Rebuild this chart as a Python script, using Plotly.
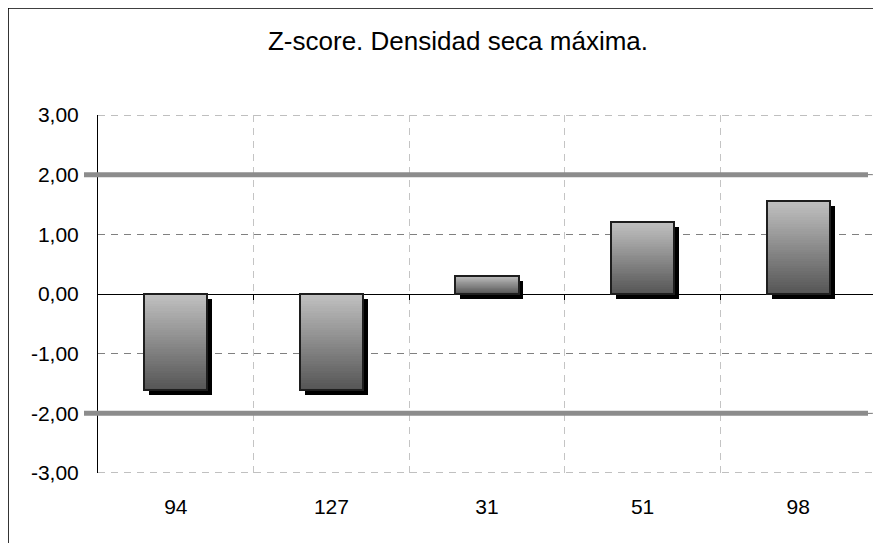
import plotly.graph_objects as go

# ---- data ----
categories = ["94", "127", "31", "51", "98"]
zscores = [-1.61, -1.61, 0.31, 1.20, 1.56]
limits = [2.0, -2.0]
y_ticks = [-3, -2, -1, 0, 1, 2, 3]
y_tick_text = [("%.2f" % v).replace(".", ",") for v in y_ticks]
title_text = "Z-score. Densidad seca máxima."

# ---- style ----
FONT = "Liberation Sans, Arial, sans-serif"
BAR_W = 0.405
SH_DX = 0.032   # shadow offset (category units)
SH_DY = 0.084   # shadow offset (data units)
N_SEG = 40
LIGHT = (192, 192, 192)
DARK = (86, 86, 86)
GRID_DASH = "7px,6px"

# page body has an 8px margin, so the figure is laid out 8px up/left
W, H = 873, 535
ML, MR, MT, MB = 90, 5, 107, 70
PW, PH = W - ML - MR, H - MT - MB

fig = go.Figure()

# shadow
fig.add_trace(go.Bar(
    x=categories, y=zscores, base=[-SH_DY] * len(zscores),
    width=BAR_W, offset=-BAR_W / 2 + SH_DX,
    marker=dict(color="black", line=dict(width=0)),
    hoverinfo="skip", showlegend=False))

# gradient fill (light at top, dark at bottom)
tops = [max(v, 0) for v in zscores]
bottoms = [min(v, 0) for v in zscores]
heights = [abs(v) for v in zscores]
for k in range(N_SEG):
    t = k / (N_SEG - 1)
    col = tuple(round(LIGHT[i] + (DARK[i] - LIGHT[i]) * t) for i in range(3))
    seg_top = [tp - h * k / N_SEG for tp, h in zip(tops, heights)]
    fig.add_trace(go.Bar(
        x=categories, y=[st - b for st, b in zip(seg_top, bottoms)], base=bottoms,
        width=BAR_W, offset=-BAR_W / 2,
        marker=dict(color="rgb(%d,%d,%d)" % col, line=dict(width=0)),
        hoverinfo="skip", showlegend=False))

# outline
fig.add_trace(go.Bar(
    x=categories, y=zscores, width=BAR_W, offset=-BAR_W / 2,
    marker=dict(color="rgba(0,0,0,0)", line=dict(color="#1e1e1e", width=2)),
    showlegend=False))

# invisible trace for the tick axis at zero
fig.add_trace(go.Scatter(x=[0], y=[0], xaxis="x2", mode="markers",
                         marker=dict(opacity=0), hoverinfo="skip", showlegend=False))

# edge gridlines (plotly omits the ones on the plot border)
for yv in (min(y_ticks), max(y_ticks)):
    fig.add_shape(type="line", xref="paper", yref="y", x0=0, x1=1, y0=yv, y1=yv,
                  line=dict(color="#808080", width=1, dash=GRID_DASH), layer="below")
fig.add_shape(type="line", xref="paper", yref="paper", x0=1, x1=1, y0=0, y1=1,
              line=dict(color="#c4c4c4", width=1, dash=GRID_DASH), layer="below")

# limit lines
for lim in limits:
    fig.add_shape(type="line", xref="paper", yref="y",
                  x0=-14 / PW, x1=(PW - 8) / PW, y0=lim, y1=lim,
                  line=dict(color="#8c8c8c", width=5), layer="above")
    fig.add_shape(type="line", xref="paper", yref="y",
                  x0=(PW - 8) / PW, x1=1.0, y0=lim, y1=lim,
                  line=dict(color="#8c8c8c", width=1), layer="above")

# outer border (chart area, cropped at right and bottom)
bx = (-0.2 - ML) / PW
by = (PH + MT + 0.2) / PH
fig.add_shape(type="line", xref="paper", yref="paper",
              x0=bx, x1=bx, y0=-0.3, y1=by,
              line=dict(color="black", width=2))
fig.add_shape(type="line", xref="paper", yref="paper",
              x0=bx, x1=1.05, y0=by, y1=by,
              line=dict(color="black", width=2))

fig.update_layout(
    width=W, height=H,
    margin=dict(l=ML, r=MR, t=MT, b=MB, autoexpand=False),
    paper_bgcolor="white", plot_bgcolor="white",
    barmode="overlay", bargap=0,
    font=dict(family=FONT, size=21, color="black"),
    title=dict(text=title_text, x=450 / W, xref="container", xanchor="center",
               y=1 - 33 / H, yref="container", yanchor="middle",
               font=dict(family=FONT, size=26, color="black")),
    xaxis=dict(type="category", range=[-0.5, 4.5], tickson="boundaries",
               showgrid=True, gridcolor="#c4c4c4", griddash=GRID_DASH, gridwidth=1,
               ticks="", showline=False, zeroline=False, automargin=False,
               ticklabelstandoff=19, tickfont=dict(size=21)),
    xaxis2=dict(type="linear", range=[-0.5, 4.5], overlaying="x", anchor="free",
                position=0.5, side="bottom", automargin=False,
                tickvals=[0.5, 1.5, 2.5, 3.5, 4.5], ticks="outside", ticklen=5,
                tickcolor="black", tickwidth=1, showticklabels=False,
                showgrid=False, showline=False, zeroline=False),
    yaxis=dict(range=[-3, 3], tickvals=y_ticks, ticktext=y_tick_text,
               showgrid=True, gridcolor="#808080", griddash=GRID_DASH, gridwidth=1,
               showline=True, linecolor="black", linewidth=1,
               zeroline=True, zerolinecolor="black", zerolinewidth=1,
               ticks="", ticklabelstandoff=14, automargin=False,
               tickfont=dict(size=21)),
)

fig.write_html("out.html")
